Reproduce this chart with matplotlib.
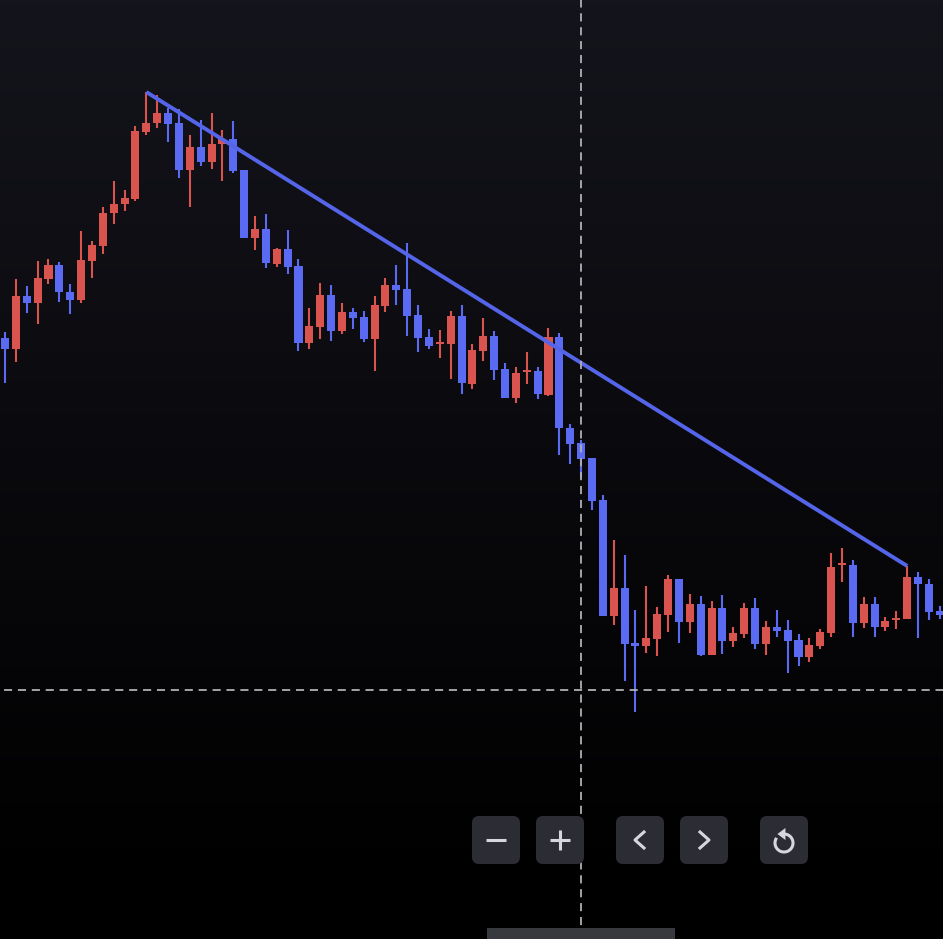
import numpy as np
import matplotlib
matplotlib.use("Agg")
import matplotlib.pyplot as plt
from matplotlib.patches import FancyBboxPatch, Rectangle, Polygon

# ---------------- data (price units) ----------------
opens = [662, 651, 704, 697, 721, 735, 708, 700, 739, 754, 787, 796, 801, 868, 877, 887, 877, 830, 853, 838,
         856, 861, 830, 762, 771, 736, 751, 734, 657, 673, 705, 669, 688, 683, 661, 694, 715, 711, 685, 663,
         656, 656, 684, 616, 649, 664, 631, 602, 628, 629, 605, 663, 572, 557, 542, 500, 384, 412, 357, 354,
         361, 385, 421, 378, 396, 345, 392, 359, 366, 392, 356, 373, 370, 360, 343, 354, 367, 435, 435, 377,
         396, 373, 380, 381, 423, 416, 389]
closes = [651, 704, 697, 722, 735, 708, 700, 740, 755, 787, 796, 802, 869, 877, 887, 876, 830, 853, 838, 856,
          861, 829, 762, 771, 737, 751, 733, 657, 674, 705, 669, 688, 682, 661, 695, 715, 710, 684, 662, 654,
          658, 684, 617, 650, 664, 630, 602, 627, 630, 606, 663, 572, 556, 541, 499, 384, 412, 356, 354, 362,
          386, 421, 378, 396, 345, 392, 359, 367, 392, 356, 373, 369, 359, 343, 355, 368, 433, 437, 377, 396,
          373, 379, 382, 423, 416, 388, 385]
highs = [668, 721, 714, 739, 741, 738, 716, 769, 759, 793, 819, 810, 874, 908, 905, 892, 891, 865, 880, 887,
         870, 879, 830, 784, 786, 752, 770, 741, 692, 717, 715, 697, 692, 689, 704, 722, 735, 757, 695, 671,
         670, 689, 695, 656, 682, 669, 637, 633, 648, 633, 672, 667, 576, 560, 542, 505, 460, 445, 390, 414,
         393, 425, 421, 406, 404, 399, 405, 373, 397, 402, 379, 390, 380, 366, 362, 371, 447, 452, 440, 403,
         403, 383, 389, 434, 428, 421, 394]
lows = [617, 638, 687, 676, 716, 698, 686, 697, 722, 746, 776, 789, 799, 865, 872, 858, 822, 793, 834, 831,
        819, 827, 762, 750, 732, 733, 726, 649, 651, 661, 659, 666, 671, 658, 629, 688, 695, 664, 648, 651,
        642, 621, 606, 611, 639, 620, 602, 597, 616, 601, 604, 545, 536, 522, 490, 384, 375, 319, 288, 347,
        344, 368, 357, 367, 344, 345, 346, 353, 362, 351, 345, 363, 327, 334, 338, 351, 363, 418, 363, 372,
        363, 369, 371, 381, 362, 380, 381]

trend_start = 13      # candle index where trend line starts (at its high)
trend_end = 83        # candle index where trend line ends (at its high)
cross_x = 53          # crosshair candle index
cross_price = 310     # crosshair price level

UP = "#d9534f"
DOWN = "#5a6af2"
LINE = "#5565ea"

W, H = 943, 939
fig = plt.figure(figsize=(W / 100, H / 100), dpi=100)

# background gradient
bg = fig.add_axes([0, 0, 1, 1], zorder=0)
t = np.linspace(0, 1, 256).reshape(-1, 1)
top = np.array([20, 20, 28]) / 255.0
f = np.clip(1 - t / 0.95, 0, 1)
img = (top[None, None, :] * f[:, :, None]) * np.ones((1, 2, 1))
bg.imshow(img, aspect="auto", extent=[0, 1, 0, 1], origin="upper")
bg.set_axis_off()

# price axes
ax = fig.add_axes([0, 0, 1, 1], zorder=1)
ax.patch.set_alpha(0)
n = len(opens)
x = np.arange(n)
step = 10.87
ax.set_xlim(-5 / step, (W - 5) / step)
ax.set_ylim(1000 - H, 1000)
ax.set_axis_off()

o = np.array(opens, float)
c = np.array(closes, float)
hi = np.array(highs, float)
lo = np.array(lows, float)
colors = [UP if cc >= oo else DOWN for oo, cc in zip(o, c)]
ax.vlines(x, lo, hi, colors=colors, linewidth=1.5, zorder=2)
bottom = np.minimum(o, c)
height = np.maximum(np.abs(c - o), 1.6)
ax.bar(x, height, bottom=bottom, width=0.74, color=colors, zorder=3, linewidth=0)

# trend line
ax.plot([trend_start, trend_end], [highs[trend_start], highs[trend_end]], color=LINE,
        linewidth=2.8, solid_capstyle="butt", zorder=4)

# crosshair
ax.axhline(cross_price, color="#b0b0b5", linewidth=1.3, dashes=(4.5, 3.2), zorder=5, xmin=0.004)
ax.axvline(cross_x, color="#b0b0b5", linewidth=1.3, dashes=(4.5, 3.2), zorder=5)

# overlay UI in pixel coords
ui = fig.add_axes([0, 0, 1, 1], zorder=6)
ui.patch.set_alpha(0)
ui.set_xlim(0, W)
ui.set_ylim(H, 0)
ui.set_axis_off()

BTN = "#2b2c34"
ICON = "#d6d6de"
buttons = [472, 536, 616, 680, 760]
for bx in buttons:
    ui.add_patch(FancyBboxPatch((bx, 816), 48, 48, boxstyle="round,pad=0,rounding_size=7",
                                fc=BTN, ec="none"))
cy = 840
lw = 2.2
# minus
ui.plot([486, 506], [cy, cy], color=ICON, lw=lw, solid_capstyle="butt")
# plus
ui.plot([550, 570], [cy, cy], color=ICON, lw=lw, solid_capstyle="butt")
ui.plot([560, 560], [cy - 10, cy + 10], color=ICON, lw=lw, solid_capstyle="butt")
# chevrons
ui.plot([644, 635, 644], [832, 840, 848], color=ICON, lw=lw)
ui.plot([700, 709, 700], [832, 840, 848], color=ICON, lw=lw)
# reset icon
rcx, rcy, r = 784, 843, 9
th = np.radians(np.linspace(100, -205, 80))
ui.plot(rcx + r * np.cos(th), rcy - r * np.sin(th), color=ICON, lw=lw)
ax_t = rcx + r * np.cos(np.radians(100))
ui.add_patch(Polygon([[ax_t + 3, rcy - r - 6], [ax_t + 3, rcy - r + 6], [ax_t - 5, rcy - r]],
                     closed=True, fc=ICON, ec="none"))

# scrollbar
ui.add_patch(Rectangle((487, 928), 188, 12, fc="#38393f", ec="none"))

fig.savefig("out.png", dpi=100, facecolor="black")
